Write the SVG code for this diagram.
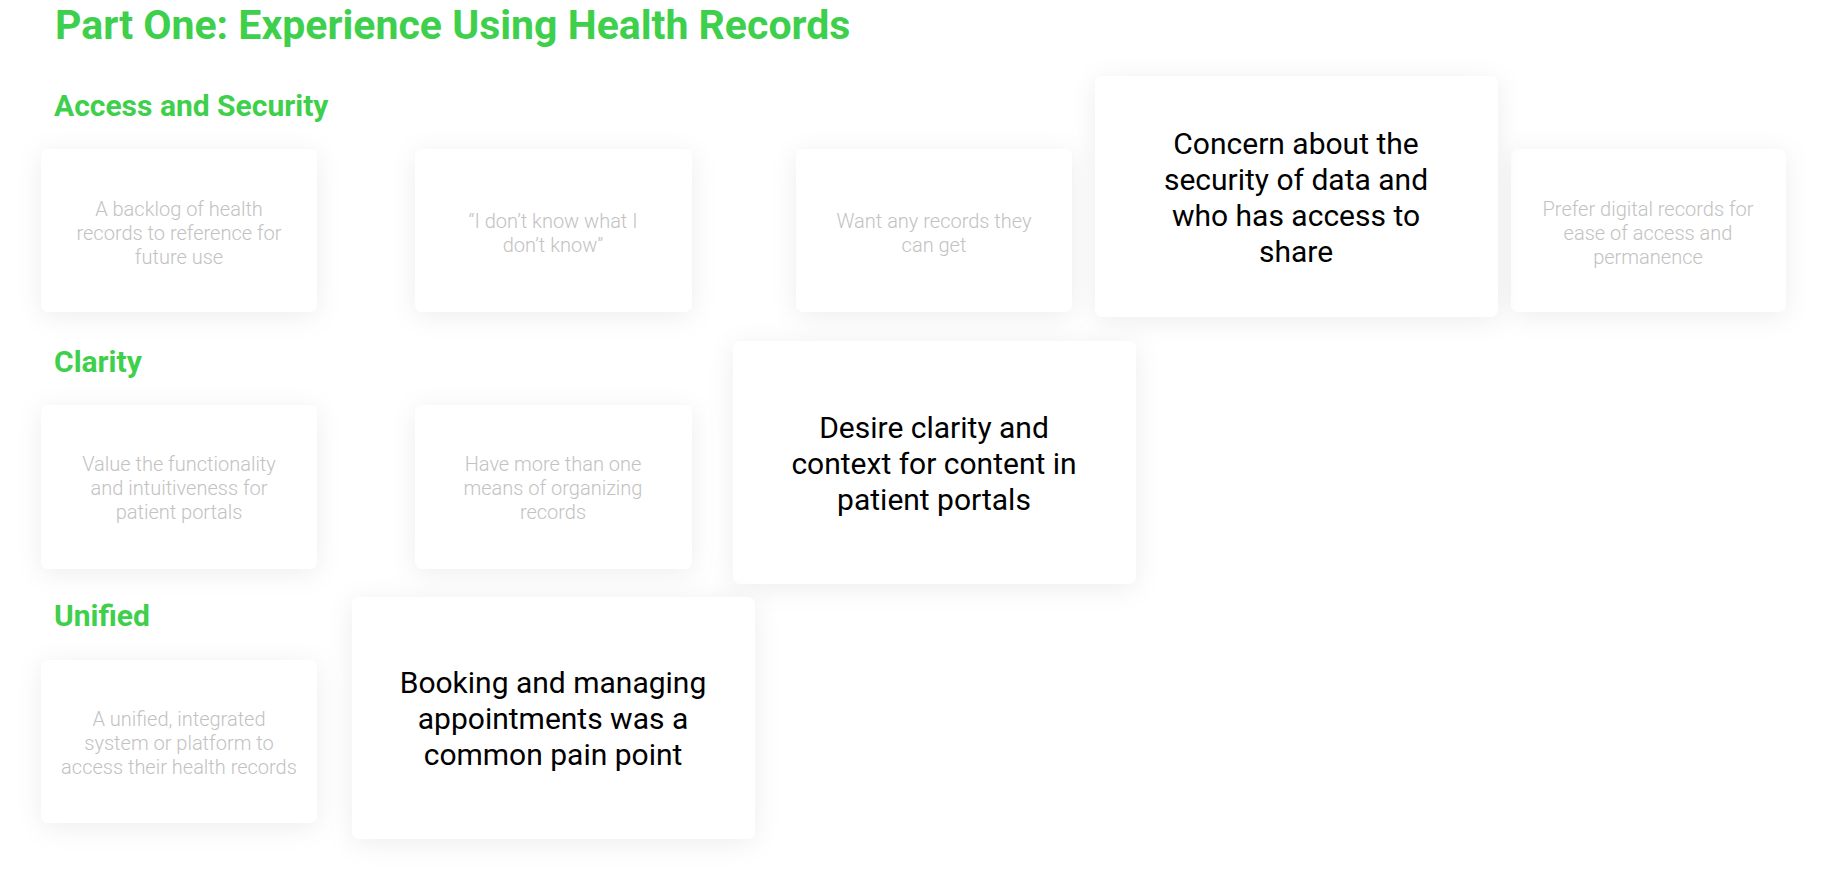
<svg xmlns="http://www.w3.org/2000/svg" width="1827" height="880" viewBox="0 0 1827 880">
<defs>
<filter id="sh" x="-25%" y="-25%" width="150%" height="160%">
<feDropShadow dx="0" dy="4" stdDeviation="13" flood-color="#000" flood-opacity="0.07"/>
</filter>
<style>
.h{font-family:Roboto,"Liberation Sans",sans-serif;font-weight:700;fill:#3ecf4c}
.card{fill:#fff;filter:url(#sh)}
.s{font-family:Roboto,"Liberation Sans",sans-serif;font-weight:300;font-size:20px;fill:#c2c2c2;text-anchor:middle}
.b{font-family:Roboto,"Liberation Sans",sans-serif;font-weight:400;font-size:30px;fill:#000;text-anchor:middle}
</style>
</defs>
<rect width="1827" height="880" fill="#fff"/>
<g id="titles">
<text class="h" x="55" y="39" font-size="41">Part One: Experience Using Health Records</text>
<text class="h" x="54" y="116" font-size="30">Access and Security</text>
<text class="h" x="54" y="372" font-size="30">Clarity</text>
<text class="h" x="54" y="626" font-size="30">Unified</text>
</g>
<g id="connectors"/>
<g id="n1"><rect class="card" x="41" y="149" width="276" height="163" rx="8"/>
<text class="s"><tspan x="179" y="216">A backlog of health</tspan><tspan x="179" y="240">records to reference for</tspan><tspan x="179" y="264">future use</tspan></text></g>
<g id="n2"><rect class="card" x="415" y="149" width="277" height="163" rx="8"/>
<text class="s"><tspan x="553" y="228">“I don’t know what I</tspan><tspan x="553" y="252">don’t know”</tspan></text></g>
<g id="n3"><rect class="card" x="796" y="149" width="276" height="163" rx="8"/>
<text class="s"><tspan x="934" y="228">Want any records they</tspan><tspan x="934" y="252">can get</tspan></text></g>
<g id="n5"><rect class="card" x="1511" y="149" width="275" height="163" rx="8"/>
<text class="s"><tspan x="1648" y="216">Prefer digital records for</tspan><tspan x="1648" y="240">ease of access and</tspan><tspan x="1648" y="264">permanence</tspan></text></g>
<g id="n4"><rect class="card" x="1095" y="76" width="403" height="241" rx="8"/>
<text class="b"><tspan x="1296" y="154">Concern about the</tspan><tspan x="1296" y="190">security of data and</tspan><tspan x="1296" y="226">who has access to</tspan><tspan x="1296" y="262">share</tspan></text></g>
<g id="n6"><rect class="card" x="41" y="405" width="276" height="164" rx="8"/>
<text class="s"><tspan x="179" y="471">Value the functionality</tspan><tspan x="179" y="495">and intuitiveness for</tspan><tspan x="179" y="519">patient portals</tspan></text></g>
<g id="n7"><rect class="card" x="415" y="405" width="277" height="164" rx="8"/>
<text class="s"><tspan x="553" y="471">Have more than one</tspan><tspan x="553" y="495">means of organizing</tspan><tspan x="553" y="519">records</tspan></text></g>
<g id="n8"><rect class="card" x="733" y="341" width="403" height="243" rx="8"/>
<text class="b"><tspan x="934" y="438">Desire clarity and</tspan><tspan x="934" y="474">context for content in</tspan><tspan x="934" y="510">patient portals</tspan></text></g>
<g id="n9"><rect class="card" x="41" y="660" width="276" height="163" rx="8"/>
<text class="s"><tspan x="179" y="726">A unified, integrated</tspan><tspan x="179" y="750">system or platform to</tspan><tspan x="179" y="774">access their health records</tspan></text></g>
<g id="n10"><rect class="card" x="352" y="597" width="403" height="242" rx="8"/>
<text class="b"><tspan x="553" y="693">Booking and managing</tspan><tspan x="553" y="729">appointments was a</tspan><tspan x="553" y="765">common pain point</tspan></text></g>
</svg>
